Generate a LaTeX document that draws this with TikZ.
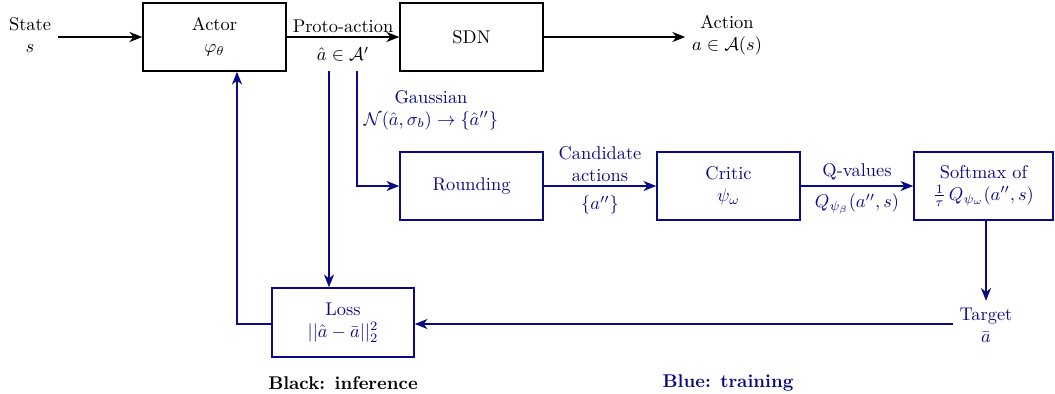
\documentclass[tikz,border=0pt]{standalone}
\usepackage{amsmath}
\usepackage{amssymb}
\usepackage{tikz}
\usetikzlibrary{arrows.meta,positioning}

\definecolor{trainblue}{RGB}{10,10,135}

\begin{document}
\begin{tikzpicture}[x=0.5435pt,y=-0.5435pt,thick,>={Stealth[length=7pt,width=5.5pt,inset=2.2pt]},
  block/.style={draw,rectangle,minimum width=143*0.5435pt,minimum height=68*0.5435pt,align=center},
  lbl/.style={align=center},
  train/.style={trainblue,text=trainblue}]
\useasboundingbox (0,0) rectangle (1055,393);

% Inference path
\node[lbl] (state) at (30,35) {State\\$s$};
\node[block] (actor) at (214.5,37) {Actor\\$\varphi_\theta$};
\node[block] (sdn) at (471.5,37) {SDN};
\node[lbl] (action) at (727,35) {Action\\$a \in \mathcal{A}(s)$};

\draw[->] (state.east |- actor) -- (actor);
\draw[->] (actor) -- node[above,inner sep=2pt] {Proto-action} node[below,inner sep=5pt] {$\hat{a} \in \mathcal{A}'$} (sdn);
\draw[->] (sdn) -- (action.west |- sdn);

% Training path
\node[block,train] (round) at (471.5,186) {Rounding};
\node[block,train] (critic) at (728.5,186) {Critic\\$\psi_\omega$};
\node[block,train,minimum width=139*0.5435pt] (soft) at (983.5,186) {Softmax of\\$\frac{1}{\tau}\,Q_{\psi_\omega}(a'',s)$};
\node[lbl,train] (target) at (986,325) {Target\\$\bar{a}$};
\node[block,train,minimum width=142*0.5435pt,minimum height=69*0.5435pt] (loss) at (343,322.5) {Loss\\$||\hat{a}-\bar{a}||_2^2$};

\coordinate (pa1) at (329,71);
\coordinate (pa2) at (357,71);

\draw[->,train] (pa2) |- (round);
\node[lbl,train] (gauss) at (431,110) {Gaussian\\$\mathcal{N}(\hat{a},\sigma_b) \rightarrow \{\hat{a}''\}$};
\draw[->,train] (pa1) -- (pa1 |- loss.north);
\draw[->,train] (round) -- node[above,align=center,inner sep=2pt] {Candidate\\actions} node[below,inner sep=5pt] {$\{a''\}$} (critic);
\draw[->,train] (critic) -- node[above,inner sep=3pt] {Q-values} node[below,inner sep=4pt] {$Q_{\psi_\beta}(a'',s)$} (soft);
\draw[->,train] (soft.south -| target) -- (target);
\draw[->,train] (target.west |- 0,324) -- (loss.east |- 0,324);
\draw[->,train] (loss.west |- 0,324) -| (actor.south -| 237,0);

% Legend
\node[font=\bfseries] (leg1) at (343,383) {Black: inference};
\node[font=\bfseries,text=trainblue] (leg2) at (728,383) {Blue: training};
\end{tikzpicture}
\end{document}
